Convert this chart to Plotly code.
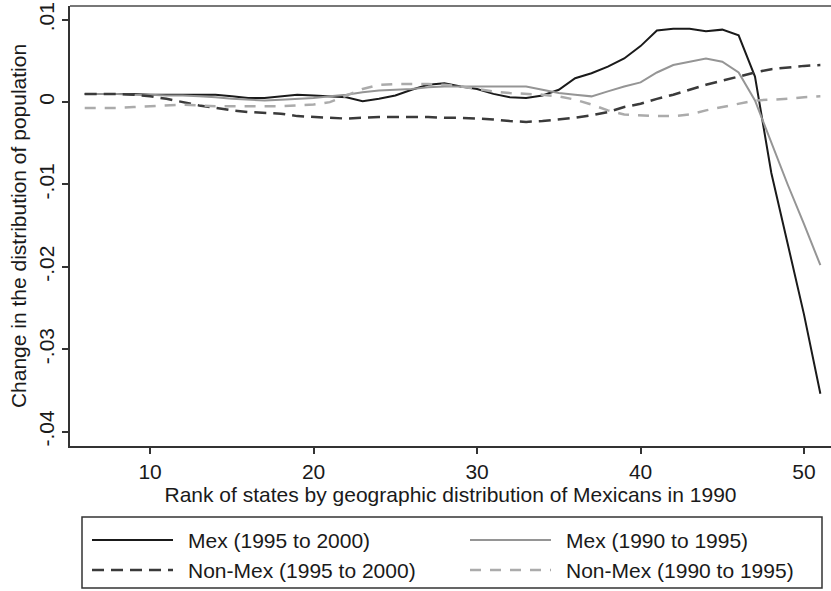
import plotly.graph_objects as go

rank = list(range(6, 52))

mex_95_00 = [0.0010, 0.0010, 0.0010, 0.0010, 0.0009, 0.0009, 0.0009, 0.0009, 0.0009, 0.0007,
             0.0005, 0.0005, 0.0007, 0.0009, 0.0008, 0.0007, 0.0006, 0.0001, 0.0004, 0.0008,
             0.0015, 0.0021, 0.0023, 0.0019, 0.0016, 0.0010, 0.0006, 0.0005, 0.0008, 0.0015,
             0.0029, 0.0035, 0.0043, 0.0053, 0.0068, 0.0087, 0.0089, 0.0089, 0.0086, 0.0088,
             0.0081, 0.0031, -0.0086, -0.0172, -0.0258, -0.0354]

mex_90_95 = [0.0010, 0.0010, 0.0010, 0.0009, 0.0009, 0.0008, 0.0008, 0.0007, 0.0006, 0.0004,
             0.0003, 0.0002, 0.0003, 0.0004, 0.0005, 0.0007, 0.0009, 0.0012, 0.0014, 0.0015,
             0.0016, 0.0018, 0.0019, 0.0019, 0.0019, 0.0019, 0.0019, 0.0019, 0.0015, 0.0011,
             0.0009, 0.0007, 0.0013, 0.0019, 0.0024, 0.0036, 0.0045, 0.0049, 0.0053, 0.0049,
             0.0036, 0.0002, -0.0050, -0.0100, -0.0148, -0.0198]

nonmex_95_00 = [0.0010, 0.0010, 0.0010, 0.0009, 0.0007, 0.0004, 0.0000, -0.0004, -0.0007, -0.0010,
                -0.0012, -0.0013, -0.0014, -0.0017, -0.0018, -0.0019, -0.0020, -0.0019, -0.0018, -0.0018,
                -0.0018, -0.0018, -0.0019, -0.0019, -0.0020, -0.0021, -0.0023, -0.0024, -0.0023, -0.0021,
                -0.0019, -0.0016, -0.0012, -0.0006, -0.0002, 0.0004, 0.0009, 0.0015, 0.0021, 0.0026,
                0.0031, 0.0036, 0.0040, 0.0042, 0.0044, 0.0045]

nonmex_90_95 = [-0.0007, -0.0007, -0.0007, -0.0006, -0.0005, -0.0004, -0.0003, -0.0004, -0.0005, -0.0005,
                -0.0005, -0.0005, -0.0005, -0.0004, -0.0003, 0.0000, 0.0008, 0.0016, 0.0021, 0.0022,
                0.0022, 0.0022, 0.0021, 0.0019, 0.0016, 0.0013, 0.0011, 0.0010, 0.0009, 0.0007,
                0.0003, -0.0003, -0.0010, -0.0015, -0.0016, -0.0017, -0.0017, -0.0015, -0.0010, -0.0006,
                -0.0002, 0.0002, 0.0003, 0.0004, 0.0006, 0.0007]

series_names = ["Mex (1995 to 2000)", "Mex (1990 to 1995)",
                "Non-Mex (1995 to 2000)", "Non-Mex (1990 to 1995)"]

x_ticks = [10, 20, 30, 40, 50]
y_ticks = [0.01, 0, -0.01, -0.02, -0.03, -0.04]
y_tick_labels = [".01", "0", "-.01", "-.02", "-.03", "-.04"]

FONT = "Liberation Sans, Arial, sans-serif"
FS = 21

styles = [
    dict(color="#1a1a1a", width=2, dash="solid"),
    dict(color="#959595", width=2, dash="solid"),
    dict(color="#3a3a3a", width=2.5, dash="12px,7px"),
    dict(color="#ababab", width=2.5, dash="11px,9px"),
]

fig = go.Figure()
for name, vals, st in zip(series_names, [mex_95_00, mex_90_95, nonmex_95_00, nonmex_90_95], styles):
    fig.add_trace(go.Scatter(x=rank, y=vals, mode="lines", name=name, line=st, showlegend=False))

# custom legend box (2 columns x 2 rows), paper coordinates
PW, PH, L, B = 761.0, 440.0, 70.0, 446.0
def px_x(p):
    return (p - L) / PW
def px_y(p):
    return (B - p) / PH

shapes = [
    dict(type="line", xref="paper", yref="paper", x0=0, x1=1, y0=1, y1=1,
         line=dict(color="#777777", width=2)),
    dict(type="rect", xref="paper", yref="paper",
         x0=px_x(82), x1=px_x(822), y0=px_y(588), y1=px_y(517),
         line=dict(color="#333333", width=1.5), fillcolor="rgba(0,0,0,0)"),
]
annotations = []
legend_pos = [(92, 540), (470, 540), (92, 570), (470, 570)]
for (lx, ly), name, st in zip(legend_pos, series_names, styles):
    shapes.append(dict(type="line", xref="paper", yref="paper",
                       x0=px_x(lx), x1=px_x(lx + 81), y0=px_y(ly), y1=px_y(ly),
                       line=dict(color=st["color"], width=st["width"], dash=st["dash"])))
    annotations.append(dict(text=name, xref="paper", yref="paper", x=px_x(lx + 94), y=px_y(ly),
                            xanchor="left", yanchor="middle", showarrow=False,
                            font=dict(family=FONT, size=FS, color="#1a1a1a")))

fig.update_layout(
    width=831, height=591,
    margin=dict(l=70, r=0, t=6, b=145),
    paper_bgcolor="white", plot_bgcolor="white",
    font=dict(family=FONT, size=FS, color="#1a1a1a"),
    showlegend=False,
    shapes=shapes,
    annotations=annotations,
)

fig.update_xaxes(
    range=[5.1, 51.65], tickvals=x_ticks, ticks="outside", ticklen=6, tickwidth=1.5,
    tickcolor="#333333", showline=True, linecolor="#333333", linewidth=2,
    showgrid=False, zeroline=False, automargin=False,
    tickfont=dict(family=FONT, size=FS),
    title=dict(text="Rank of states by geographic distribution of Mexicans in 1990",
               font=dict(family=FONT, size=FS), standoff=2),
)
fig.update_yaxes(
    range=[-0.04175, 0.01167], tickvals=y_ticks, ticktext=y_tick_labels, tickangle=-90,
    ticks="outside", ticklen=6, tickwidth=1.5, tickcolor="#333333",
    showline=True, linecolor="#333333", linewidth=2,
    showgrid=False, zeroline=False, automargin=False,
    tickfont=dict(family=FONT, size=FS),
    title=dict(text="Change in the distribution of population",
               font=dict(family=FONT, size=FS), standoff=2),
)

fig.write_html("out.html")
